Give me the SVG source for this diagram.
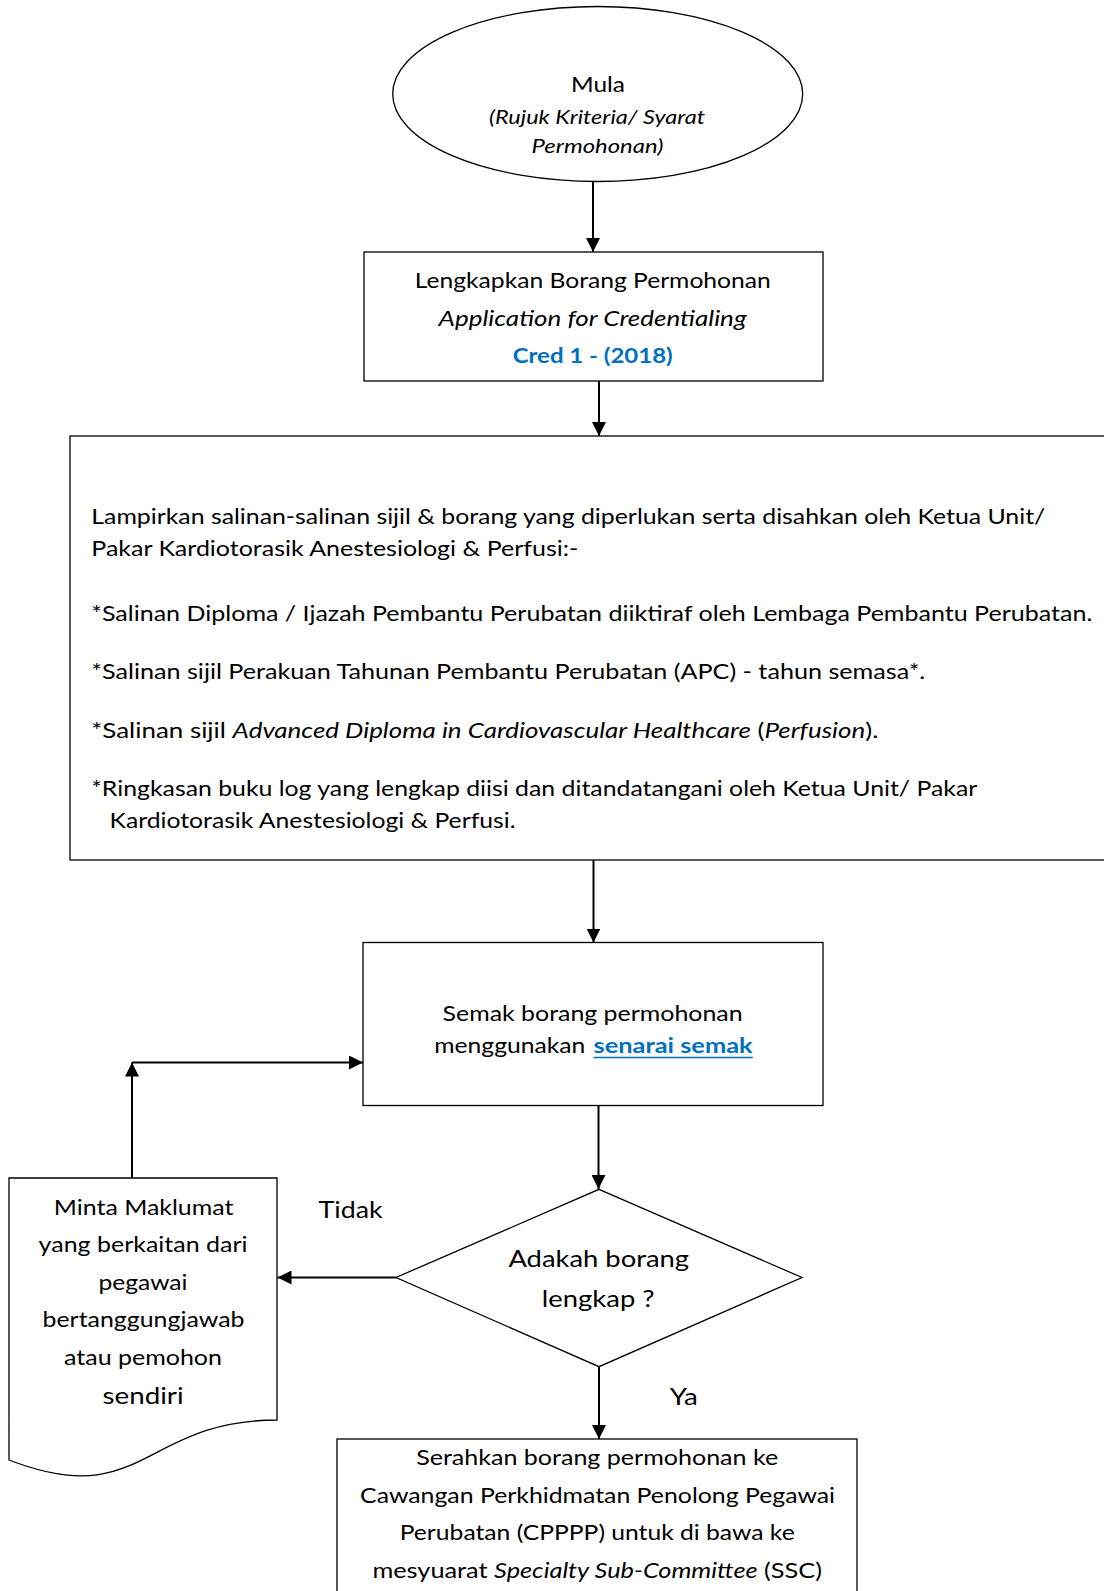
<svg xmlns="http://www.w3.org/2000/svg" width="1104" height="1591" viewBox="0 0 1104 1591">
<style>
text{font-family:Lato,"Liberation Sans",sans-serif;fill:#000}
.c{text-anchor:middle}
.i{font-style:italic}
.box{fill:#fff;stroke:#000;stroke-width:1.3}
.con{fill:none;stroke:#000;stroke-width:2}
.blue{fill:#0070C0;font-weight:bold}
</style>
<defs>
<marker id="ah" viewBox="0 0 14 14" refX="14" refY="7" markerWidth="14" markerHeight="14" markerUnits="userSpaceOnUse" orient="auto">
<path d="M0,0 L14,7 L0,14 Z" fill="#000"/>
</marker>
</defs>
<rect width="1104" height="1591" fill="#fff"/>

<g id="connectors">
<path class="con" d="M593,182 V252" marker-end="url(#ah)"/>
<path class="con" d="M599,381 V436" marker-end="url(#ah)"/>
<path class="con" d="M593.5,860 V942.5" marker-end="url(#ah)"/>
<path class="con" d="M598.5,1105.5 V1189" marker-end="url(#ah)"/>
<path class="con" d="M396,1277.5 H277.5" marker-end="url(#ah)"/>
<path class="con" d="M132,1178 V1062.5" marker-end="url(#ah)"/>
<path class="con" d="M132,1062.5 H363" marker-end="url(#ah)"/>
<path class="con" d="M599,1367 V1439" marker-end="url(#ah)"/>
</g>

<g id="mula">
<ellipse class="box" cx="597.7" cy="94" rx="205" ry="87.5"/>
<text class="c" x="598" y="91.5" font-size="21" textLength="54" lengthAdjust="spacingAndGlyphs">Mula</text>
<text class="c i" x="597" y="124" font-size="20" textLength="216" lengthAdjust="spacingAndGlyphs">(Rujuk Kriteria/ Syarat</text>
<text class="c i" x="597.5" y="153" font-size="20" textLength="132" lengthAdjust="spacingAndGlyphs">Permohonan)</text>
</g>

<g id="lengkapkan">
<rect class="box" x="364" y="252" width="459" height="129"/>
<text class="c" x="592.8" y="288.3" font-size="21" textLength="356" lengthAdjust="spacingAndGlyphs">Lengkapkan Borang Permohonan</text>
<text class="c i" x="592.5" y="326" font-size="21" textLength="308" lengthAdjust="spacingAndGlyphs">Application for Credentialing</text>
<text class="c blue" x="592.7" y="363.3" font-size="21" textLength="160" lengthAdjust="spacingAndGlyphs">Cred 1 - (2018)</text>
</g>

<g id="lampirkan">
<rect class="box" x="70" y="436" width="1050" height="424"/>
<text x="91.3" y="523.5" font-size="21.5" textLength="954" lengthAdjust="spacingAndGlyphs">Lampirkan salinan-salinan sijil &amp; borang yang diperlukan serta disahkan oleh Ketua Unit/</text>
<text x="91.3" y="556" font-size="21.5" textLength="487" lengthAdjust="spacingAndGlyphs">Pakar Kardiotorasik Anestesiologi &amp; Perfusi:-</text>
<text x="91.3" y="621" font-size="21.5" textLength="1001" lengthAdjust="spacingAndGlyphs">*Salinan Diploma / Ijazah Pembantu Perubatan diiktiraf oleh Lembaga Pembantu Perubatan.</text>
<text x="91.3" y="679" font-size="21.5" textLength="834" lengthAdjust="spacingAndGlyphs">*Salinan sijil Perakuan Tahunan Pembantu Perubatan (APC) - tahun semasa*.</text>
<text x="91.3" y="737.5" font-size="21.5" textLength="787" lengthAdjust="spacingAndGlyphs">*Salinan sijil <tspan class="i">Advanced Diploma in Cardiovascular Healthcare</tspan> (<tspan class="i">Perfusion</tspan>).</text>
<text x="91.3" y="795.5" font-size="21.5" textLength="886" lengthAdjust="spacingAndGlyphs">*Ringkasan buku log yang lengkap diisi dan ditandatangani oleh Ketua Unit/ Pakar</text>
<text x="109.6" y="828" font-size="21.5" textLength="406" lengthAdjust="spacingAndGlyphs">Kardiotorasik Anestesiologi &amp; Perfusi.</text>
</g>

<g id="semak">
<rect class="box" x="363" y="942.5" width="460" height="163"/>
<text class="c" x="592.6" y="1020.7" font-size="20.5" textLength="300" lengthAdjust="spacingAndGlyphs">Semak borang permohonan</text>
<text x="434.3" y="1053" font-size="20.5" textLength="151" lengthAdjust="spacingAndGlyphs">menggunakan</text>
<text class="blue" x="593.6" y="1053" font-size="20.5" textLength="159" lengthAdjust="spacingAndGlyphs">senarai semak</text>
<line x1="593.6" y1="1057.5" x2="752.9" y2="1057.5" stroke="#0070C0" stroke-width="1.6"/>
</g>

<g id="adakah">
<path class="box" d="M599,1189.3 L802,1277.5 L599,1366.7 L396,1277.5 Z"/>
<text class="c" x="598.7" y="1266.7" font-size="23.5" textLength="180.6" lengthAdjust="spacingAndGlyphs">Adakah borang</text>
<text class="c" x="598.2" y="1306.5" font-size="23.5" textLength="112.7" lengthAdjust="spacingAndGlyphs">lengkap ?</text>
</g>

<g id="label-tidak">
<text x="318.6" y="1217.5" font-size="23.5" textLength="64" lengthAdjust="spacingAndGlyphs">Tidak</text>
</g>
<g id="label-ya">
<text x="669.7" y="1405.3" font-size="23" textLength="28" lengthAdjust="spacingAndGlyphs">Ya</text>
</g>

<g id="minta">
<path class="box" d="M9,1178 H277 V1420 C143,1420 143,1512 9,1460 Z"/>
<text class="c" x="143.6" y="1214.5" font-size="22" textLength="179.6" lengthAdjust="spacingAndGlyphs">Minta Maklumat</text>
<text class="c" x="143.1" y="1252" font-size="22" textLength="209" lengthAdjust="spacingAndGlyphs">yang berkaitan dari</text>
<text class="c" x="143" y="1289.6" font-size="22" textLength="89" lengthAdjust="spacingAndGlyphs">pegawai</text>
<text class="c" x="143.5" y="1327.1" font-size="22" textLength="202" lengthAdjust="spacingAndGlyphs">bertanggungjawab</text>
<text class="c" x="143" y="1364.7" font-size="22" textLength="158" lengthAdjust="spacingAndGlyphs">atau pemohon</text>
<text class="c" x="143.1" y="1404.2" font-size="23" textLength="81" lengthAdjust="spacingAndGlyphs">sendiri</text>
</g>

<g id="serahkan">
<rect class="box" x="337" y="1439" width="520" height="170"/>
<text class="c" x="597.2" y="1465.2" font-size="21" textLength="362" lengthAdjust="spacingAndGlyphs">Serahkan borang permohonan ke</text>
<text class="c" x="597.6" y="1502.8" font-size="21" textLength="475" lengthAdjust="spacingAndGlyphs">Cawangan Perkhidmatan Penolong Pegawai</text>
<text class="c" x="597.2" y="1540.3" font-size="21" textLength="395" lengthAdjust="spacingAndGlyphs">Perubatan (CPPPP) untuk di bawa ke</text>
<text class="c" x="597.2" y="1577.9" font-size="21" textLength="449.6" lengthAdjust="spacingAndGlyphs">mesyuarat <tspan class="i">Specialty Sub-Committee</tspan> (SSC)</text>
</g>
</svg>
